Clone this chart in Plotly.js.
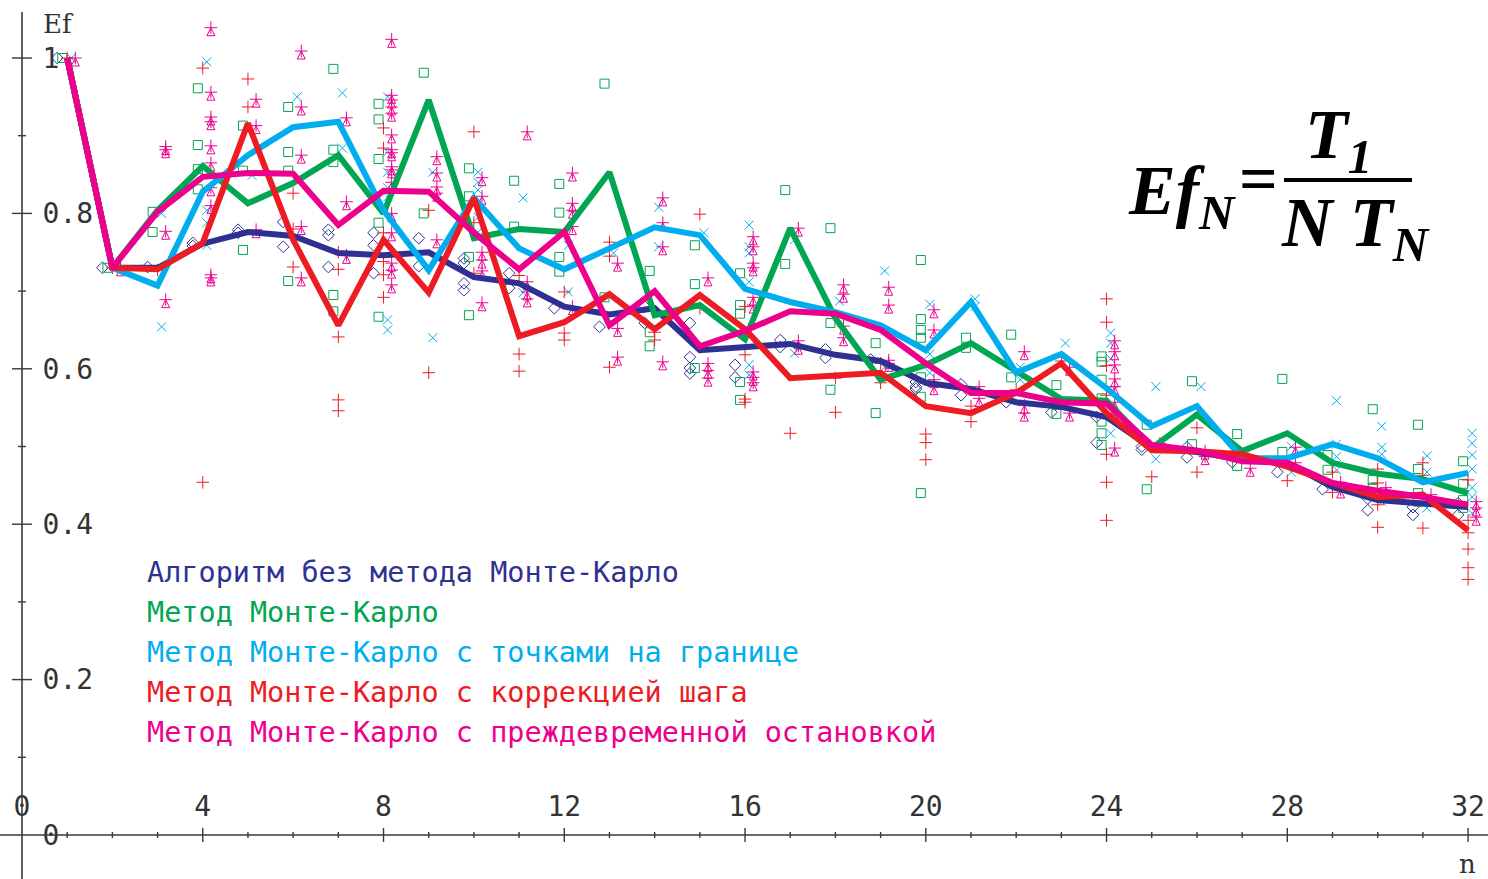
<!DOCTYPE html>
<html>
<head>
<meta charset="utf-8">
<script src="https://cdn.plot.ly/plotly-3.0.1.min.js"></script>
<style>html,body{margin:0;padding:0;background:#fff;}#chart{width:1488px;height:879px;}</style>
</head>
<body>
<div id="chart"></div>
<script>
// ---------- DATA ----------
const nValues = [1,2,3,4,5,6,7,8,9,10,11,12,13,14,15,16,17,18,19,20,21,22,23,24,25,26,27,28,29,30,31,32];

const seriesNames = [
  "Алгоритм без метода Монте-Карло",
  "Метод Монте-Карло",
  "Метод Монте-Карло с точками на границе",
  "Метод Монте-Карло с коррекцией шага",
  "Метод Монте-Карло с преждевременной остановкой"
];

// mean efficiency lines
const noMC       = [1.0,0.730,0.730,0.761,0.776,0.771,0.749,0.746,0.750,0.718,0.710,0.680,0.670,0.678,0.624,0.628,0.632,0.618,0.610,0.582,0.574,0.557,0.551,0.538,0.498,0.493,0.483,0.479,0.448,0.431,0.426,0.422];
const mc         = [1.0,0.730,0.804,0.861,0.813,0.839,0.875,0.800,0.946,0.768,0.780,0.776,0.853,0.669,0.682,0.638,0.781,0.665,0.586,0.605,0.633,0.596,0.561,0.559,0.498,0.541,0.494,0.517,0.479,0.465,0.458,0.440];
const mcBoundary = [1.0,0.730,0.707,0.828,0.875,0.911,0.918,0.804,0.727,0.820,0.755,0.728,0.755,0.782,0.772,0.703,0.686,0.673,0.656,0.624,0.686,0.595,0.619,0.575,0.526,0.552,0.485,0.485,0.503,0.485,0.454,0.466];
const mcStep     = [1.0,0.730,0.728,0.762,0.916,0.766,0.656,0.766,0.698,0.820,0.642,0.660,0.696,0.651,0.695,0.651,0.588,0.592,0.595,0.552,0.543,0.569,0.607,0.543,0.495,0.494,0.490,0.474,0.453,0.435,0.438,0.392];
const mcEarly    = [1.0,0.730,0.802,0.847,0.852,0.851,0.785,0.829,0.828,0.775,0.728,0.776,0.656,0.700,0.629,0.649,0.674,0.671,0.650,0.607,0.569,0.569,0.557,0.555,0.502,0.495,0.481,0.479,0.453,0.443,0.435,0.425];

// individual runs (index = n-1)
const noMCPts = [
[1.0],[0.73],[0.731],[0.762,0.758],[0.779,0.775],[0.789,0.757],[0.779,0.772,0.731],[0.775,0.759,0.723],
[0.768,0.732],[0.742,0.736,0.710,0.701],[0.723,0.704],[0.678],[0.654],[0.680,0.659],[0.659,0.615,0.601,0.594],[0.605,0.589],
[0.637,0.628],[0.625,0.614],[0.612],[0.583,0.577,0.574],[0.580,0.566],[0.557],[0.544],[0.538,0.505],
[0.500,0.496],[0.499,0.486],[0.480],[0.467],[0.445],[0.433,0.418],[0.422,0.412],[0.427,0.412]
];
const mcPts = [
[1.0],[0.73],[0.802,0.776],[0.961,0.888,0.857,0.831],[0.913,0.855,0.753],[0.937,0.879,0.855,0.713],[0.986,0.882,0.866,0.695,0.674],[0.941,0.921,0.870,0.788,0.667],
[0.981,0.800],[0.858,0.822,0.744,0.669],[0.842,0.783],[0.838,0.801,0.744,0.725],[0.967,0.692],[0.726,0.647,0.629],[0.759,0.709,0.601],[0.723,0.682,0.671,0.583,0.560],
[0.830,0.735],[0.781,0.659,0.573],[0.633,0.543],[0.740,0.664,0.650,0.640,0.589,0.564,0.440],[0.640,0.627],[0.644,0.589],[0.579,0.542],[0.616,0.609,0.586,0.562,0.532,0.517,0.502],
[0.528,0.445],[0.584,0.503],[0.516,0.475],[0.587,0.493],[0.489,0.470],[0.548,0.457,0.447],[0.528,0.471,0.440,0.429],[0.481,0.452,0.431,0.421]
];
const mcBoundaryPts = [
[1.0],[0.73],[0.800,0.654],[0.995,0.804,0.788,0.759],[0.849],[0.950],[0.955,0.884],[0.950,0.879,0.853,0.833,0.821,0.663,0.650],
[0.853,0.640],[0.853,0.840,0.830,0.795,0.776],[0.820,0.698],[0.759,0.699],[0.749],[0.808,0.757],[0.775],[0.785,0.757,0.749,0.712,0.605,0.592],
[0.766,0.620],[0.687],[0.726,0.602],[0.683,0.619,0.595],[0.690,0.680],[0.602,0.586],[0.633],[0.646,0.633,0.613,0.517],
[0.577,0.484],[0.577],[0.490],[0.500,0.467],[0.559,0.503,0.487,0.470],[0.526,0.499,0.490,0.429],[0.488,0.467,0.421],[0.517,0.504,0.489,0.471,0.447,0.435,0.414]
];
const mcStepPts = [
[1.0],[0.73],[0.727],[0.987,0.454],[0.973,0.937],[0.826,0.780,0.731],[0.750,0.728,0.641,0.560,0.546],[0.910,0.884,0.775,0.738,0.721,0.692],
[0.804,0.595],[0.905,0.788,0.723],[0.720,0.619,0.597],[0.699,0.646,0.637],[0.763,0.745,0.602],[0.647,0.637],[0.799,0.678],[0.680,0.618,0.561,0.557],
[0.517],[0.588,0.544],[0.607,0.582],[0.516,0.505,0.483],[0.552,0.532],[0.573],[0.610],[0.690,0.660,0.604,0.566,0.490,0.454,0.405],
[0.461],[0.524,0.467],[0.490],[0.456],[0.467,0.441],[0.471,0.453,0.425,0.396],[0.479,0.463,0.395],[0.457,0.405,0.389,0.368,0.344,0.329]
];
const mcEarlyPts = [
[1.0],[0.73],[0.886,0.882,0.777,0.689],[1.039,0.956,0.924,0.918,0.887,0.865,0.833,0.810,0.721,0.717],[0.947,0.913,0.779],[1.009,0.937,0.875,0.783,0.717],[0.923,0.815,0.746],
[1.024,0.952,0.946,0.937,0.929,0.901,0.882,0.878,0.860,0.856,0.840,0.800,0.775,0.736,0.727,0.708],
[0.873,0.852,0.834,0.826,0.766],[0.846,0.822,0.750,0.740,0.726,0.685],[0.905,0.712,0.699,0.690],[0.852,0.813,0.804,0.783,0.680],[0.736,0.652,0.615],[0.820,0.788,0.757,0.609],[0.717,0.607,0.598,0.588],
[0.770,0.757,0.736,0.730,0.692,0.682,0.596,0.589,0.582],
[0.781,0.636,0.629],[0.708,0.696,0.655,0.640],[0.705,0.682,0.611,0.607],[0.676,0.650,0.586,0.577],[0.577,0.562],[0.622,0.553,0.543],[0.602,0.543],[0.636,0.622,0.605,0.587,0.577,0.557,0.543,0.498],
[0.504],[0.494,0.487],[0.472],[0.499,0.479],[0.454,0.444],[0.447],[0.438],[0.429,0.421,0.409]
];

const xTickVals = [0,4,8,12,16,20,24,28,32];
const yTickVals = [0,0.2,0.4,0.6,0.8,1];
const yTickText = ["0","0.2","0.4","0.6","0.8","1"];

// ---------- STYLE ----------
const colors = ["#2e3192","#00a651","#00aeef","#ed1c24","#ec008c"];
const symbols = ["diamond-open","square-open","x-thin-open","cross-thin-open","arrow-up-open"];
const offsets = [-0.22,-0.11,0.09,0.0,0.18];
const lines = [noMC, mc, mcBoundary, mcStep, mcEarly];
const pts = [noMCPts, mcPts, mcBoundaryPts, mcStepPts, mcEarlyPts];

const W = 1488, H = 879;
const x0px = 22, pxPerX = 45.19;
const y0px = 835, pxPerY = 777;
const xRange = [-x0px/pxPerX, (W - x0px)/pxPerX];
const yRange = [(y0px - H)/pxPerY, y0px/pxPerY];

const traces = [];
pts.forEach((groups, s) => {
  const xs = [], ys = [];
  groups.forEach((vals, i) => vals.forEach(v => { xs.push(nValues[i] + offsets[s]); ys.push(v); }));
  traces.push({
    x: xs, y: ys, mode: "markers", type: "scatter", showlegend: false, hoverinfo: "skip",
    marker: {symbol: symbols[s], size: s === 4 ? 8 : 9, color: colors[s], line: {color: colors[s], width: 1}}
  });
  if (s === 4) {
    traces.push({
      x: xs, y: ys, mode: "markers", type: "scatter", showlegend: false, hoverinfo: "skip",
      marker: {symbol: "cross-thin-open", size: 9, color: colors[s], line: {color: colors[s], width: 1}}
    });
  }
});
lines.forEach((vals, s) => {
  traces.push({
    x: nValues, y: vals, mode: "lines", type: "scatter", name: seriesNames[s], showlegend: false,
    line: {color: colors[s], width: 6}
  });
});

// axis lines and crossing ticks
const shapes = [];
const axisColor = "#3a3a3a";
shapes.push({type: "line", xref: "paper", yref: "y", x0: 0, x1: 1, y0: 0, y1: 0, line: {color: axisColor, width: 1.6}});
shapes.push({type: "line", xref: "x", yref: "paper", x0: 0, x1: 0, y0: 0, y1: 1 - 12/H, line: {color: axisColor, width: 1.6}});
for (let k = 1; k <= 32; k++) {
  const major = k % 4 === 0;
  const h = major ? 7 : 3;
  shapes.push({type: "line", xref: "x", yref: "y", ysizemode: "pixel", yanchor: 0, x0: k, x1: k, y0: -h, y1: h,
    line: {color: axisColor, width: 1.4}});
}
for (let k = 1; k <= 10; k++) {
  const v = k / 10;
  const major = k % 2 === 0;
  const w = major ? 10 : 4;
  shapes.push({type: "line", xref: "x", yref: "y", xsizemode: "pixel", xanchor: 0, x0: -w, x1: w, y0: v, y1: v,
    line: {color: axisColor, width: 1.4}});
}
// fraction bar of the formula
shapes.push({type: "line", xref: "paper", yref: "paper", x0: 1284/W, x1: 1412/W, y0: 1 - 180/H, y1: 1 - 180/H,
  line: {color: "#000", width: 4}});

const mono = "DejaVu Sans Mono";
const annotations = [];
seriesNames.forEach((t, s) => {
  annotations.push({text: t, xref: "paper", yref: "paper", x: 145/W, y: 1 - (572 + 40*s)/H,
    xanchor: "left", yanchor: "middle", showarrow: false,
    font: {family: mono, size: 28.5, color: colors[s]}});
});
annotations.push({text: "Ef", xref: "paper", yref: "paper", x: 58/W, y: 1 - 24/H, xanchor: "center", yanchor: "middle",
  showarrow: false, font: {family: "DejaVu Serif", size: 26, color: "#333"}});
annotations.push({text: "n", xref: "paper", yref: "paper", x: 1467/W, y: 1 - 864/H, xanchor: "center", yanchor: "middle",
  showarrow: false, font: {family: "DejaVu Serif", size: 26, color: "#333"}});
const serif = "Liberation Serif";
annotations.push({text: "<b><i>Ef<sub>N</sub></i></b>", xref: "paper", yref: "paper", x: 1238/W, y: 1 - 196/H,
  xanchor: "right", yanchor: "middle", showarrow: false, font: {family: serif, size: 70, color: "#000"}});
annotations.push({text: "<b>=</b>", xref: "paper", yref: "paper", x: 1258/W, y: 1 - 178/H,
  xanchor: "center", yanchor: "middle", showarrow: false, font: {family: serif, size: 68, color: "#000"}});
annotations.push({text: "<b><i>T<sub>1</sub></i></b>", xref: "paper", yref: "paper", x: 1338/W, y: 1 - 140/H,
  xanchor: "center", yanchor: "middle", showarrow: false, font: {family: serif, size: 70, color: "#000"}});
annotations.push({text: "<b><i>N T<sub>N</sub></i></b>", xref: "paper", yref: "paper", x: 1355/W, y: 1 - 228/H,
  xanchor: "center", yanchor: "middle", showarrow: false, font: {family: serif, size: 70, color: "#000"}});

const layout = {
  width: W, height: H,
  margin: {l: 0, r: 0, t: 0, b: 0},
  paper_bgcolor: "#fff", plot_bgcolor: "#fff",
  showlegend: false,
  xaxis: {range: xRange, anchor: "free", position: (H - y0px)/H, side: "top",
    tickvals: xTickVals, ticks: "outside", ticklen: 8, tickcolor: "rgba(0,0,0,0)",
    showgrid: false, zeroline: false, showline: false, automargin: false, fixedrange: true,
    tickfont: {family: mono, size: 28, color: "#333"}},
  yaxis: {range: yRange, anchor: "free", position: x0px/W, side: "right",
    tickvals: yTickVals, ticktext: yTickText, ticks: "outside", ticklen: 14, tickcolor: "rgba(0,0,0,0)",
    showgrid: false, zeroline: false, showline: false, automargin: false, fixedrange: true,
    tickfont: {family: mono, size: 28, color: "#333"}},
  shapes: shapes,
  annotations: annotations
};

Plotly.newPlot("chart", traces, layout, {displayModeBar: false, staticPlot: true});
</script>
</body>
</html>
